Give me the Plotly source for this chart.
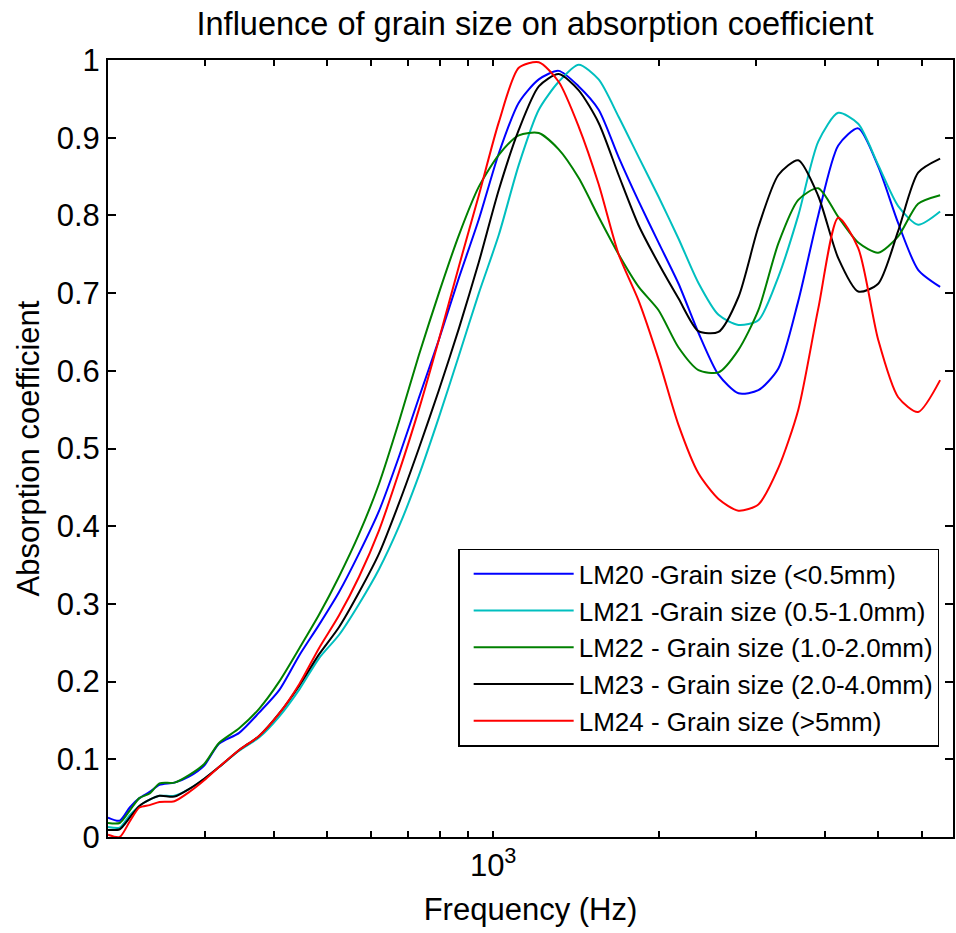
import plotly.graph_objects as go

# Frequencies (Hz) shared by all series
freq = [200, 210, 219, 228, 238, 248, 264, 281, 299, 318, 346, 376, 409, 445, 483,
        525, 571, 621, 675, 733, 797, 867, 942, 1024, 1113, 1210, 1315, 1430, 1554,
        1689, 1837, 1996, 2170, 2358, 2564, 2787, 3029, 3293, 3579, 3890, 4229, 4597,
        4997, 5433, 5905, 6473]

lm20 = [0.025, 0.021, 0.038, 0.050, 0.058, 0.067, 0.070, 0.078, 0.092, 0.120, 0.134, 0.160,
        0.189, 0.234, 0.273, 0.315, 0.365, 0.42, 0.49, 0.565, 0.64, 0.72, 0.795, 0.88, 0.945,
        0.975, 0.986, 0.966, 0.936, 0.875, 0.818, 0.765, 0.712, 0.649, 0.595, 0.571, 0.575,
        0.603, 0.69, 0.80, 0.89, 0.912, 0.863, 0.79, 0.730, 0.708]

lm21 = [0.013, 0.012, 0.028, 0.040, 0.048, 0.053, 0.053, 0.062, 0.075, 0.090, 0.111, 0.128,
        0.155, 0.19, 0.23, 0.26, 0.30, 0.345, 0.40, 0.465, 0.54, 0.62, 0.70, 0.775, 0.865,
        0.936, 0.972, 0.994, 0.975, 0.927, 0.875, 0.824, 0.770, 0.713, 0.672, 0.659, 0.665,
        0.721, 0.80, 0.895, 0.932, 0.918, 0.865, 0.812, 0.788, 0.805]

lm22 = [0.018, 0.018, 0.034, 0.050, 0.056, 0.069, 0.070, 0.080, 0.094, 0.121, 0.140, 0.165,
        0.200, 0.243, 0.286, 0.335, 0.39, 0.455, 0.535, 0.62, 0.70, 0.775, 0.837, 0.878, 0.903,
        0.906, 0.885, 0.848, 0.798, 0.750, 0.708, 0.678, 0.630, 0.601, 0.598, 0.627, 0.678,
        0.764, 0.82, 0.835, 0.798, 0.765, 0.752, 0.773, 0.815, 0.826]

lm23 = [0.009, 0.010, 0.025, 0.040, 0.048, 0.053, 0.052, 0.062, 0.075, 0.090, 0.112, 0.130,
        0.159, 0.195, 0.235, 0.27, 0.315, 0.365, 0.43, 0.50, 0.575, 0.655, 0.74, 0.833, 0.91,
        0.966, 0.982, 0.961, 0.919, 0.852, 0.787, 0.738, 0.693, 0.651, 0.650, 0.695, 0.785,
        0.852, 0.871, 0.825, 0.745, 0.702, 0.712, 0.78, 0.855, 0.873]

lm24 = [0.003, 0.0, 0.02, 0.038, 0.041, 0.045, 0.046, 0.058, 0.073, 0.090, 0.112, 0.130,
        0.159, 0.197, 0.243, 0.285, 0.335, 0.395, 0.47, 0.55, 0.64, 0.735, 0.826, 0.92, 0.99,
        0.997, 0.972, 0.914, 0.84, 0.75, 0.69, 0.615, 0.53, 0.468, 0.435, 0.42, 0.428, 0.475,
        0.55, 0.68, 0.797, 0.758, 0.64, 0.566, 0.547, 0.588]

series_names = ["LM20 -Grain size (<0.5mm)", "LM21 -Grain size (0.5-1.0mm)",
                "LM22 - Grain size (1.0-2.0mm)", "LM23 - Grain size (2.0-4.0mm)",
                "LM24 - Grain size (>5mm)"]
series_values = [lm20, lm21, lm22, lm23, lm24]
series_colors = ["#0000FF", "#00BFBF", "#008000", "#000000", "#FF0000"]

y_ticks = [0, 0.1, 0.2, 0.3, 0.4, 0.5, 0.6, 0.7, 0.8, 0.9, 1]
y_ticktext = ["0", "0.1", "0.2", "0.3", "0.4", "0.5", "0.6", "0.7", "0.8", "0.9", "1"]
x_major = [1000]
x_major_text = ["10<sup>3</sup>"]
x_minor = [200, 300, 400, 500, 600, 700, 800, 900, 2000, 3000, 4000, 5000, 6000]

FONT = "Liberation Sans, Arial, Helvetica, sans-serif"

fig = go.Figure()
for name, vals, col in zip(series_names, series_values, series_colors):
    fig.add_trace(go.Scatter(x=freq, y=vals, mode="lines", name=name,
                             line=dict(color=col, width=2, shape="spline", smoothing=0.7)))

fig.update_layout(
    width=956, height=933,
    margin=dict(l=108, r=1, t=60, b=96),
    paper_bgcolor="white", plot_bgcolor="white",
    font=dict(family=FONT, color="black", size=31),
    title=dict(text="Influence of grain size on absorption coefficient",
               x=0.5596, xanchor="center", y=0.975, yanchor="middle",
               font=dict(size=32.5, family=FONT, color="black")),
    showlegend=True,
    legend=dict(x=0.4144, y=0.371, xanchor="left", yanchor="top",
                bgcolor="white", bordercolor="black", borderwidth=1.5,
                font=dict(size=26, family=FONT, color="black"),
                tracegroupgap=0, itemwidth=100, indentation=9),
)

fig.update_xaxes(
    type="log", range=[2.30103, 3.8345],
    tickmode="array", tickvals=x_major, ticktext=x_major_text,
    ticks="inside", ticklen=6, tickwidth=1.5, tickcolor="black",
    minor=dict(tickmode="array", tickvals=x_minor, ticks="inside", ticklen=6,
               tickwidth=1.5, tickcolor="black", showgrid=False),
    showline=True, linecolor="black", linewidth=2, mirror="ticks",
    showgrid=False, zeroline=False,
    tickfont=dict(size=31, family=FONT, color="black"),
    title=dict(text="Frequency (Hz)", font=dict(size=31, family=FONT, color="black"),
               standoff=16),
)
fig.update_yaxes(
    range=[0, 1], tickmode="array", tickvals=y_ticks, ticktext=y_ticktext,
    ticks="inside", ticklen=8, tickwidth=1.5, tickcolor="black",
    showline=True, linecolor="black", linewidth=2, mirror="ticks",
    showgrid=False, zeroline=False,
    tickfont=dict(size=31, family=FONT, color="black"),
    title=dict(text="Absorption coefficient", font=dict(size=31, family=FONT, color="black"),
               standoff=8),
)

fig.write_html("out.html", config={"displayModeBar": False},
               post_script="document.body.style.margin='0px';")
